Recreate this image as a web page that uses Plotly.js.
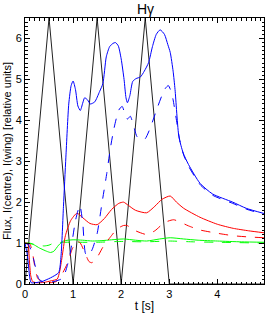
<!DOCTYPE html>
<html><head><meta charset="utf-8">
<script src="https://cdn.plot.ly/plotly-3.0.1.min.js"></script>
<style>html,body{margin:0;padding:0;background:#fff}#chart{width:267px;height:313px}</style>
</head><body><div id="chart"></div>
<script>
// Triangle (black) pulse
const triT = [0, 0.5, 1, 1.5, 2, 2.5, 3, 5];
const triY = [0, 6.5, 0, 6.5, 0, 6.5, 0, 0];

// Blue solid
const blueSolidT = [0,0.05,0.1,0.13,0.2,0.35,0.53,0.7,0.75,0.8,0.85,0.91,0.96,1.0,1.05,1.1,1.15,1.2,1.24,1.3,1.36,1.45,1.55,1.62,1.69,1.76,1.83,1.88,1.94,2.0,2.06,2.1,2.13,2.18,2.24,2.31,2.4,2.48,2.57,2.65,2.73,2.81,2.9,2.97,3.02,3.08,3.12,3.2,3.29,3.4,3.64,3.9,4.32,4.6,4.98];
const blueSolidY = [1.0,0.7,0.15,0.03,0.03,0.06,0.15,0.28,0.7,1.9,3.1,4.4,4.85,4.96,4.75,4.35,4.24,4.42,4.55,4.5,4.4,4.45,4.7,4.9,5.55,5.8,5.88,5.9,5.82,5.5,5.0,4.55,4.43,4.6,4.95,5.02,5.06,5.2,5.41,5.8,6.1,6.21,6.1,5.85,5.66,5.2,4.75,3.6,3.2,2.92,2.46,2.2,2.0,1.85,1.72];

// Blue dashed
const blueDashT = [0,0.08,0.18,0.24,0.29,0.4,0.6,0.75,0.81,0.88,0.95,1.05,1.14,1.2,1.26,1.32,1.4,1.5,1.6,1.7,1.77,1.85,1.95,2.02,2.08,2.13,2.19,2.25,2.33,2.43,2.5,2.6,2.75,2.9,2.98,3.04,3.08,3.15,3.22,3.3,3.4,3.64,3.9,4.32,4.6,4.98];
const blueDashY = [1.0,0.95,0.6,0.3,0.12,0.04,0.06,0.12,0.2,0.45,0.81,1.55,1.92,1.5,0.74,0.69,0.85,1.23,1.97,2.7,3.28,3.8,4.25,4.34,4.15,4.03,4.1,3.9,3.6,3.52,3.55,3.8,4.3,4.75,4.85,4.7,4.5,4.0,3.5,3.15,2.88,2.43,2.17,1.97,1.83,1.70];

// Red solid
const redSolidT = [0,0.06,0.09,0.12,0.16,0.25,0.4,0.55,0.67,0.72,0.77,0.84,0.95,1.08,1.2,1.35,1.5,1.65,1.8,1.95,2.05,2.15,2.3,2.53,2.7,2.85,3.02,3.15,3.3,3.64,4.0,4.33,4.65,4.98];
const redSolidY = [1.0,0.98,0.6,0.2,0.06,0.03,0.04,0.08,0.12,0.3,0.65,1.18,1.55,1.73,1.62,1.48,1.45,1.6,1.82,1.97,2.0,1.92,1.8,1.74,1.9,2.07,2.15,2.0,1.85,1.63,1.46,1.36,1.3,1.25];

// Red dashed
const redDashT = [0,0.1,0.15,0.2,0.26,0.35,0.5,0.65,0.75,0.88,0.98,1.08,1.15,1.25,1.33,1.39,1.5,1.62,1.77,1.92,2.05,2.12,2.3,2.53,2.7,2.9,3.09,3.25,3.4,3.64,4.0,4.33,4.65,4.98];
const redDashY = [1.0,0.98,0.8,0.45,0.15,0.05,0.03,0.06,0.2,0.5,0.85,1.05,1.0,0.75,0.55,0.52,0.65,0.9,1.14,1.35,1.43,1.43,1.3,1.21,1.3,1.5,1.57,1.5,1.42,1.32,1.24,1.18,1.15,1.13];

// Green solid
const greenSolidT = [0,0.1,0.2,0.3,0.45,0.53,0.6,0.7,0.8,1.0,1.2,1.4,1.6,1.8,2.05,2.3,2.53,2.8,3.02,3.3,3.6,4.0,4.5,4.98];
const greenSolidY = [1.0,1.0,0.95,0.88,0.8,0.77,0.8,0.95,1.05,1.08,1.07,1.05,1.06,1.08,1.1,1.07,1.05,1.1,1.13,1.1,1.07,1.05,1.03,1.02];

// Green dashed
const greenDashT = [0,0.15,0.25,0.4,0.5,0.6,0.8,1.0,1.5,2.0,2.5,3.0,3.5,4.0,4.98];
const greenDashY = [1.0,0.98,0.95,0.93,0.95,1.0,1.02,1.02,1.02,1.04,1.03,1.05,1.03,1.02,1.0];

const font = 'Liberation Sans, Arial, sans-serif';
function tr(x, y, color, dash, w) {
  return {x: x, y: y, mode: 'lines', type: 'scatter', hoverinfo: 'skip',
    line: {color: color, width: w || 1, dash: dash || 'solid', shape: 'spline', smoothing: 0.6}};
}
const data = [
  {x: triT, y: triY, mode: 'lines', type: 'scatter', line: {color: '#222', width: 1}},
  tr(greenDashT, greenDashY, '#00ff00', 'dash'),
  tr(greenSolidT, greenSolidY, '#00ff00'),
  tr(redDashT, redDashY, '#ff0000', 'dash'),
  tr(redSolidT, redSolidY, '#ff0000'),
  tr(blueDashT, blueDashY, '#0000ff', 'dash'),
  tr(blueSolidT, blueSolidY, '#0000ff')
];
const axisCommon = {
  showgrid: false, zeroline: false, showline: true, linecolor: '#000', linewidth: 1,
  mirror: 'allticks', ticks: 'inside', ticklen: 5, tickcolor: '#000', tickwidth: 1,
  tickfont: {family: font, size: 11, color: '#000'},
  minor: {dtick: 0.1, ticks: 'inside', ticklen: 2.5, tickcolor: '#000', tickwidth: 1}
};
const layout = {
  width: 267, height: 313, showlegend: false,
  paper_bgcolor: '#fff', plot_bgcolor: '#fff',
  margin: {l: 25, r: 3, t: 18, b: 29},
  title: {text: 'Hγ', font: {family: font, size: 14, color: '#000'}, x: 0.545, xanchor: 'center', yref: 'container', y: 0.972, yanchor: 'middle'},
  xaxis: Object.assign({}, axisCommon, {range: [0, 4.97], dtick: 1, tick0: 0,
    title: {text: 't [s]', font: {family: font, size: 12, color: '#000'}, standoff: 4}}),
  yaxis: Object.assign({}, axisCommon, {range: [0, 6.5], dtick: 1, tick0: 0,
    title: {text: 'Flux, I(centre), I(wing) [relative units]', font: {family: font, size: 11, color: '#000'}, standoff: 1}})
};
Plotly.newPlot('chart', data, layout, {staticPlot: true, displayModeBar: false});
</script></body></html>
